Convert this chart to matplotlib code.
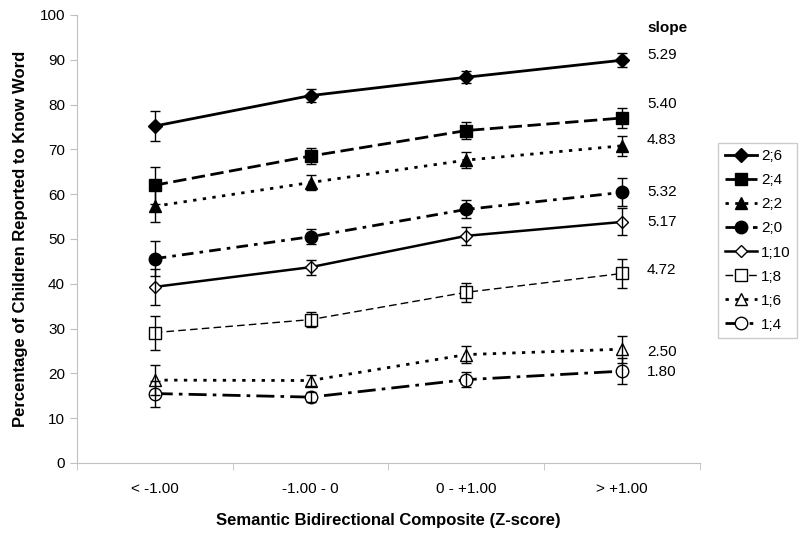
import matplotlib
matplotlib.use("Agg")
import matplotlib.pyplot as plt
import numpy

plt.rcParams['font.family'] = ['Liberation Sans', 'DejaVu Sans']

categories = ["< -1.00", "-1.00 - 0", "0 - +1.00", "> +1.00"]
ages = ["2;6", "2;4", "2;2", "2;0", "1;10", "1;8", "1;6", "1;4"]

# mean percentage per age group, one value per composite bin
pct_2_6 = [75.2, 82.0, 86.1, 89.9]
pct_2_4 = [62.0, 68.5, 74.2, 77.0]
pct_2_2 = [57.3, 62.6, 67.6, 70.8]
pct_2_0 = [45.6, 50.5, 56.6, 60.4]
pct_1_10 = [39.3, 43.7, 50.7, 53.8]
pct_1_8 = [29.1, 32.0, 38.1, 42.3]
pct_1_6 = [18.5, 18.4, 24.2, 25.4]
pct_1_4 = [15.5, 14.7, 18.6, 20.5]

# error bar half-widths
err_2_6 = [3.3, 1.4, 1.4, 1.6]
err_2_4 = [4.1, 1.7, 1.8, 2.3]
err_2_2 = [3.6, 1.7, 1.7, 2.2]
err_2_0 = [3.9, 1.7, 2.0, 3.1]
err_1_10 = [4.0, 1.7, 2.0, 3.0]
err_1_8 = [3.8, 1.7, 2.1, 3.3]
err_1_6 = [3.3, 1.3, 1.9, 3.0]
err_1_4 = [2.9, 1.1, 1.6, 2.9]

slopes = ["5.29", "5.40", "4.83", "5.32", "5.17", "4.72", "2.50", "1.80"]
slope_y = [91.0, 80.1, 72.2, 60.5, 53.8, 43.1, 24.7, 20.3]

values = [pct_2_6, pct_2_4, pct_2_2, pct_2_0, pct_1_10, pct_1_8, pct_1_6, pct_1_4]
errors = [err_2_6, err_2_4, err_2_2, err_2_0, err_1_10, err_1_8, err_1_6, err_1_4]

# marker, filled?, linewidth, dash pattern (None = solid), marker size
styles = [
    ("D", True, 2.0, None, 7),
    ("s", True, 2.0, (4.8, 2.0), 8),
    ("^", True, 2.0, (1.2, 2.3), 8),
    ("o", True, 2.0, (4.2, 2.2, 1.3, 2.2), 9),
    ("D", False, 1.8, None, 6),
    ("s", False, 1.0, (5.5, 3.0), 8),
    ("^", False, 2.0, (1.2, 2.3), 8),
    ("o", False, 2.0, (6.5, 2.2, 1.3, 2.2), 9),
]

fig = plt.figure(figsize=(8, 5.34), dpi=100)
ax = fig.add_axes([0.096, 0.133, 0.779, 0.839])

x = numpy.arange(len(categories)) + 0.5
handles = []
for label, vals, errs, (mk, filled, lw, dash, ms) in zip(ages, values, errors, styles):
    face = "black" if filled else "white"
    (line,) = ax.plot(x, vals, color="black", lw=lw, marker=mk, ms=ms,
                      markerfacecolor=face, markeredgecolor="black",
                      markeredgewidth=1.0, label=label, zorder=3)
    if dash is not None:
        line.set_dashes(dash)
    # error bars on top so they show through the open markers
    ax.errorbar(x, vals, yerr=errs, fmt="none", ecolor="black", elinewidth=1.0,
                capsize=3.5, capthick=1.0, zorder=4)
    handles.append(line)

for s, y in zip(slopes, slope_y):
    ax.text(3.66, y, s, fontsize=11, ha="left", va="center")
ax.text(3.66, 97.0, "slope", fontsize=11, fontweight="bold", ha="left", va="center")

ax.set_xlim(0, 4)
ax.set_ylim(0, 100)
ax.set_yticks(range(0, 101, 10))
ax.set_xticks(x)
ax.set_xticklabels(categories)
ax.set_xticks(range(0, 5), minor=True)
ax.tick_params(axis="x", which="major", length=0, labelsize=11, pad=14)
ax.tick_params(axis="x", which="minor", length=5, color="#c0c0c0", direction="out")
ax.tick_params(axis="y", length=5, color="#c0c0c0", labelsize=11, direction="out")

for side in ("top", "right"):
    ax.spines[side].set_visible(False)
for side in ("left", "bottom"):
    ax.spines[side].set_color("#c0c0c0")

ax.set_xlabel("Semantic Bidirectional Composite (Z-score)", fontsize=12,
              fontweight="bold", labelpad=12)
ax.set_ylabel("Percentage of Children Reported to Know Word", fontsize=12,
              fontweight="bold", labelpad=8)

leg = fig.legend(handles=handles, loc="upper left", bbox_to_anchor=(0.898, 0.732),
                 fontsize=11, frameon=True, fancybox=False, handlelength=2.1,
                 labelspacing=0.66, borderpad=0.4, handletextpad=0.3,
                 borderaxespad=0)
leg.get_frame().set_edgecolor("#c0c0c0")
leg.get_frame().set_linewidth(1.0)

fig.savefig("out.png", dpi=100)
